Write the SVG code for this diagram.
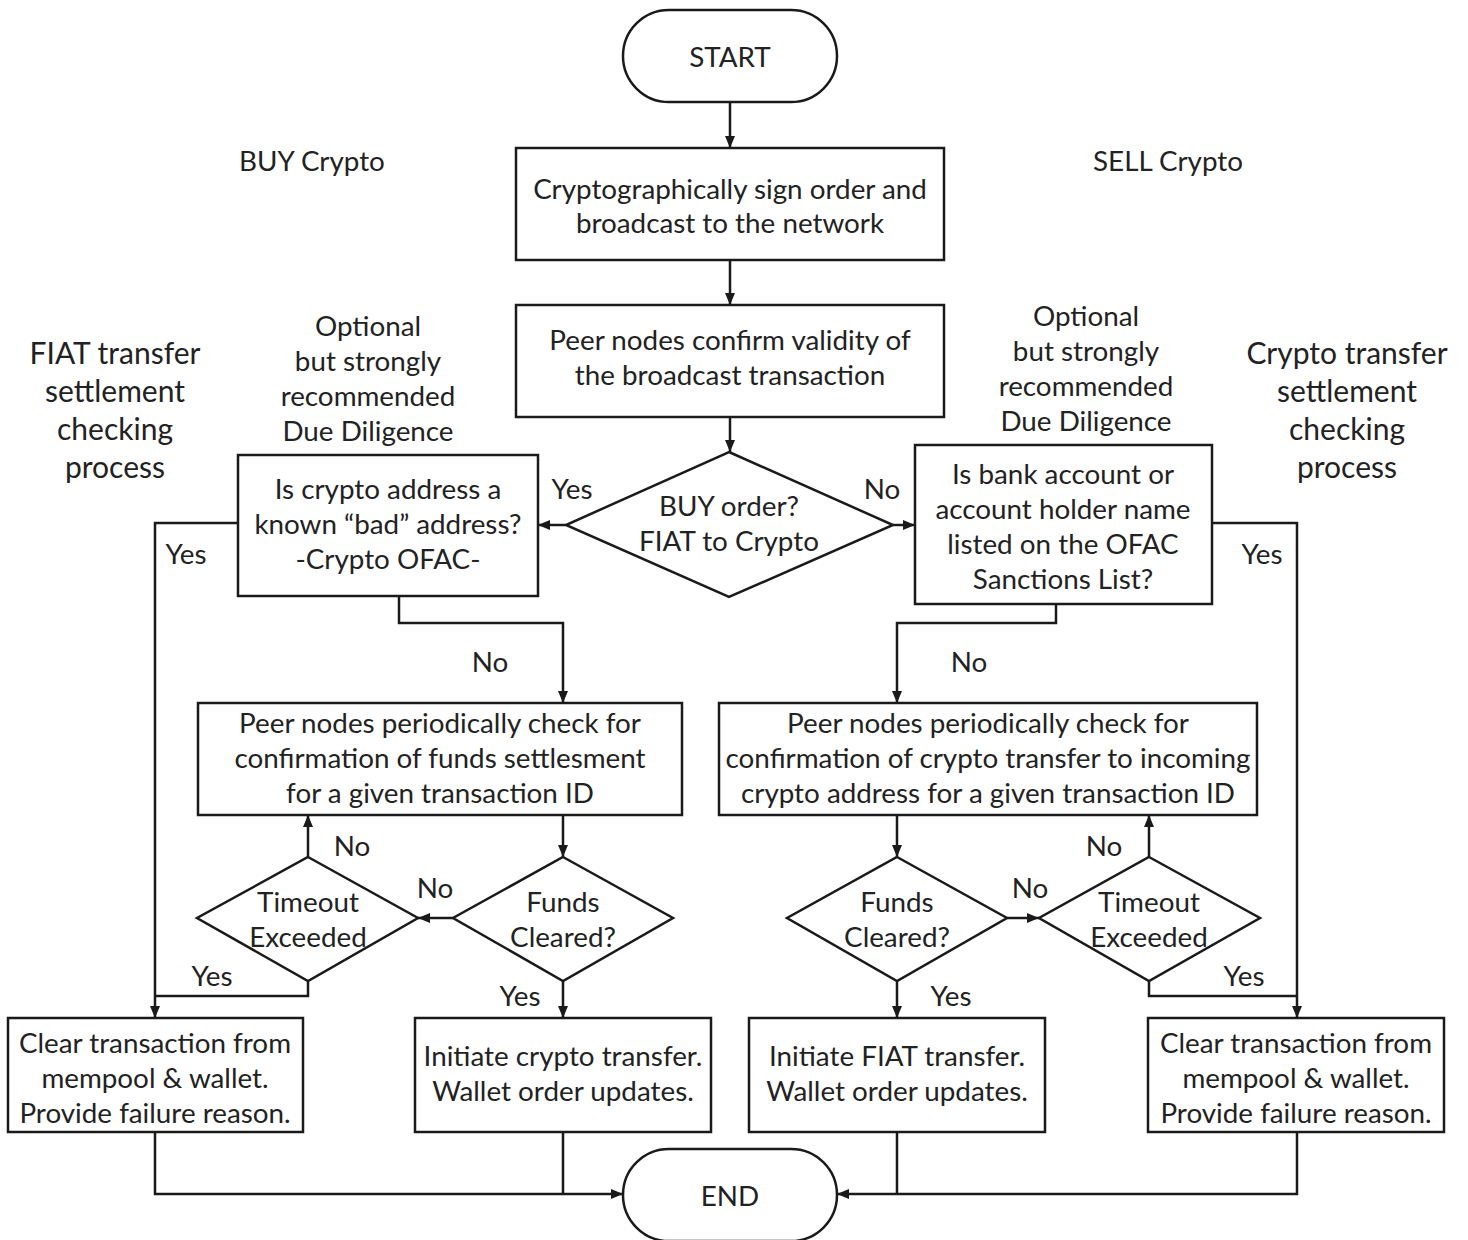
<svg xmlns="http://www.w3.org/2000/svg" width="1468" height="1240" viewBox="0 0 1468 1240">
<defs>
<marker id="ah" viewBox="0 0 12 10" refX="12" refY="5" markerWidth="12" markerHeight="10" markerUnits="userSpaceOnUse" orient="auto">
<path d="M0,0 L12,5 L0,10 Z" fill="#1a1a1a"/>
</marker>
<style>
.n{fill:#fff;stroke:#1a1a1a;stroke-width:2.5}
.t{font-family:Lato,"Open Sans",sans-serif;font-size:27.8px;fill:#222;text-anchor:middle;dominant-baseline:central}
.big{font-size:30px}
.c{fill:none;stroke:#1a1a1a;stroke-width:2.5}
.a{marker-end:url(#ah)}
</style>
</defs>
<rect width="1468" height="1240" fill="#fff"/>
<g id="connectors">
<path class="c a" d="M730,102 V148"/>
<path class="c a" d="M730,260 V305"/>
<path class="c a" d="M730,417 V452"/>
<path class="c a" d="M566,525 H538"/>
<path class="c a" d="M893,525 H915"/>
<path class="c a" d="M238,523 H155 V1018"/>
<path class="c a" d="M1212,523 H1297 V1018"/>
<path class="c a" d="M399,596 V623 H563 V703"/>
<path class="c a" d="M1056,604 V623 H897 V703"/>
<path class="c a" d="M563,815 V857"/>
<path class="c a" d="M897,815 V857"/>
<path class="c a" d="M453,918 H418"/>
<path class="c a" d="M1007,918 H1039"/>
<path class="c a" d="M308,857 V815"/>
<path class="c a" d="M1149,857 V815"/>
<path class="c" d="M308,981 V996 H155"/>
<path class="c" d="M1149,981 V996 H1297"/>
<path class="c a" d="M563,981 V1018"/>
<path class="c a" d="M897,981 V1018"/>
<path class="c a" d="M155,1132 V1194 H623"/>
<path class="c" d="M563,1132 V1194"/>
<path class="c a" d="M1297,1132 V1194 H837"/>
<path class="c" d="M897,1132 V1194"/>
<text class="t" x="572" y="488">Yes</text>
<text class="t" x="882" y="488">No</text>
<text class="t" x="186" y="553">Yes</text>
<text class="t" x="1262" y="553">Yes</text>
<text class="t" x="490" y="661">No</text>
<text class="t" x="969" y="661">No</text>
<text class="t" x="352" y="845">No</text>
<text class="t" x="1104" y="845">No</text>
<text class="t" x="435" y="887">No</text>
<text class="t" x="1030" y="887">No</text>
<text class="t" x="212" y="975">Yes</text>
<text class="t" x="1244" y="975">Yes</text>
<text class="t" x="520" y="995">Yes</text>
<text class="t" x="951" y="995">Yes</text>
</g>
<g id="labels">
<text class="t" x="312" y="160">BUY Crypto</text>
<text class="t" x="1168" y="160">SELL Crypto</text>
<text class="t big"><tspan x="115" y="352">FIAT transfer</tspan><tspan x="115" y="390">settlement</tspan><tspan x="115" y="428">checking</tspan><tspan x="115" y="466">process</tspan></text>
<text class="t big"><tspan x="1347" y="352">Crypto transfer</tspan><tspan x="1347" y="390">settlement</tspan><tspan x="1347" y="428">checking</tspan><tspan x="1347" y="466">process</tspan></text>
<text class="t"><tspan x="368" y="325">Optional</tspan><tspan x="368" y="360">but strongly</tspan><tspan x="368" y="395">recommended</tspan><tspan x="368" y="430">Due Diligence</tspan></text>
<text class="t"><tspan x="1086" y="315">Optional</tspan><tspan x="1086" y="350">but strongly</tspan><tspan x="1086" y="385">recommended</tspan><tspan x="1086" y="420">Due Diligence</tspan></text>
</g>
<g id="start"><rect class="n" x="623" y="10" width="214" height="92" rx="46"/><text class="t" x="730" y="56">START</text></g>
<g id="sign"><rect class="n" x="516" y="148" width="428" height="112"/><text class="t"><tspan x="730" y="188">Cryptographically sign order and</tspan><tspan x="730" y="222">broadcast to the network</tspan></text></g>
<g id="confirm"><rect class="n" x="516" y="305" width="428" height="112"/><text class="t"><tspan x="730" y="339">Peer nodes confirm validity of</tspan><tspan x="730" y="374">the broadcast transaction</tspan></text></g>
<g id="buy"><polygon class="n" points="729,452 893,525 729,597 566,525"/><text class="t"><tspan x="729" y="505">BUY order?</tspan><tspan x="729" y="540">FIAT to Crypto</tspan></text></g>
<g id="cryptoofac"><rect class="n" x="238" y="455" width="300" height="141"/><text class="t"><tspan x="388" y="488">Is crypto address a</tspan><tspan x="388" y="523">known “bad” address?</tspan><tspan x="388" y="558">-Crypto OFAC-</tspan></text></g>
<g id="bankofac"><rect class="n" x="915" y="445" width="297" height="159"/><text class="t"><tspan x="1063" y="473">Is bank account or</tspan><tspan x="1063" y="508">account holder name</tspan><tspan x="1063" y="543">listed on the OFAC</tspan><tspan x="1063" y="578">Sanctions List?</tspan></text></g>
<g id="peerL"><rect class="n" x="198" y="703" width="484" height="112"/><text class="t"><tspan x="440" y="722">Peer nodes periodically check for</tspan><tspan x="440" y="757">confirmation of funds settlesment</tspan><tspan x="440" y="792">for a given transaction ID</tspan></text></g>
<g id="peerR"><rect class="n" x="719" y="703" width="538" height="112"/><text class="t"><tspan x="988" y="722">Peer nodes periodically check for</tspan><tspan x="988" y="757">confirmation of crypto transfer to incoming</tspan><tspan x="988" y="792">crypto address for a given transaction ID</tspan></text></g>
<g id="fundsL"><polygon class="n" points="563,857 673,918 563,981 453,918"/><text class="t"><tspan x="563" y="901">Funds</tspan><tspan x="563" y="936">Cleared?</tspan></text></g>
<g id="timeoutL"><polygon class="n" points="308,857 418,918 308,981 197,918"/><text class="t"><tspan x="308" y="901">Timeout</tspan><tspan x="308" y="936">Exceeded</tspan></text></g>
<g id="fundsR"><polygon class="n" points="897,857 1007,918 897,981 787,918"/><text class="t"><tspan x="897" y="901">Funds</tspan><tspan x="897" y="936">Cleared?</tspan></text></g>
<g id="timeoutR"><polygon class="n" points="1149,857 1260,918 1149,981 1039,918"/><text class="t"><tspan x="1149" y="901">Timeout</tspan><tspan x="1149" y="936">Exceeded</tspan></text></g>
<g id="clearL"><rect class="n" x="8" y="1018" width="295" height="114"/><text class="t"><tspan x="155" y="1042">Clear transaction from</tspan><tspan x="155" y="1077">mempool &amp; wallet.</tspan><tspan x="155" y="1112">Provide failure reason.</tspan></text></g>
<g id="initL"><rect class="n" x="415" y="1018" width="296" height="114"/><text class="t"><tspan x="563" y="1055">Initiate crypto transfer.</tspan><tspan x="563" y="1090">Wallet order updates.</tspan></text></g>
<g id="initR"><rect class="n" x="749" y="1018" width="296" height="114"/><text class="t"><tspan x="897" y="1055">Initiate FIAT transfer.</tspan><tspan x="897" y="1090">Wallet order updates.</tspan></text></g>
<g id="clearR"><rect class="n" x="1148" y="1018" width="296" height="114"/><text class="t"><tspan x="1296" y="1042">Clear transaction from</tspan><tspan x="1296" y="1077">mempool &amp; wallet.</tspan><tspan x="1296" y="1112">Provide failure reason.</tspan></text></g>
<g id="end"><rect class="n" x="623" y="1149" width="214" height="92" rx="46"/><text class="t" x="730" y="1195">END</text></g>
</svg>
